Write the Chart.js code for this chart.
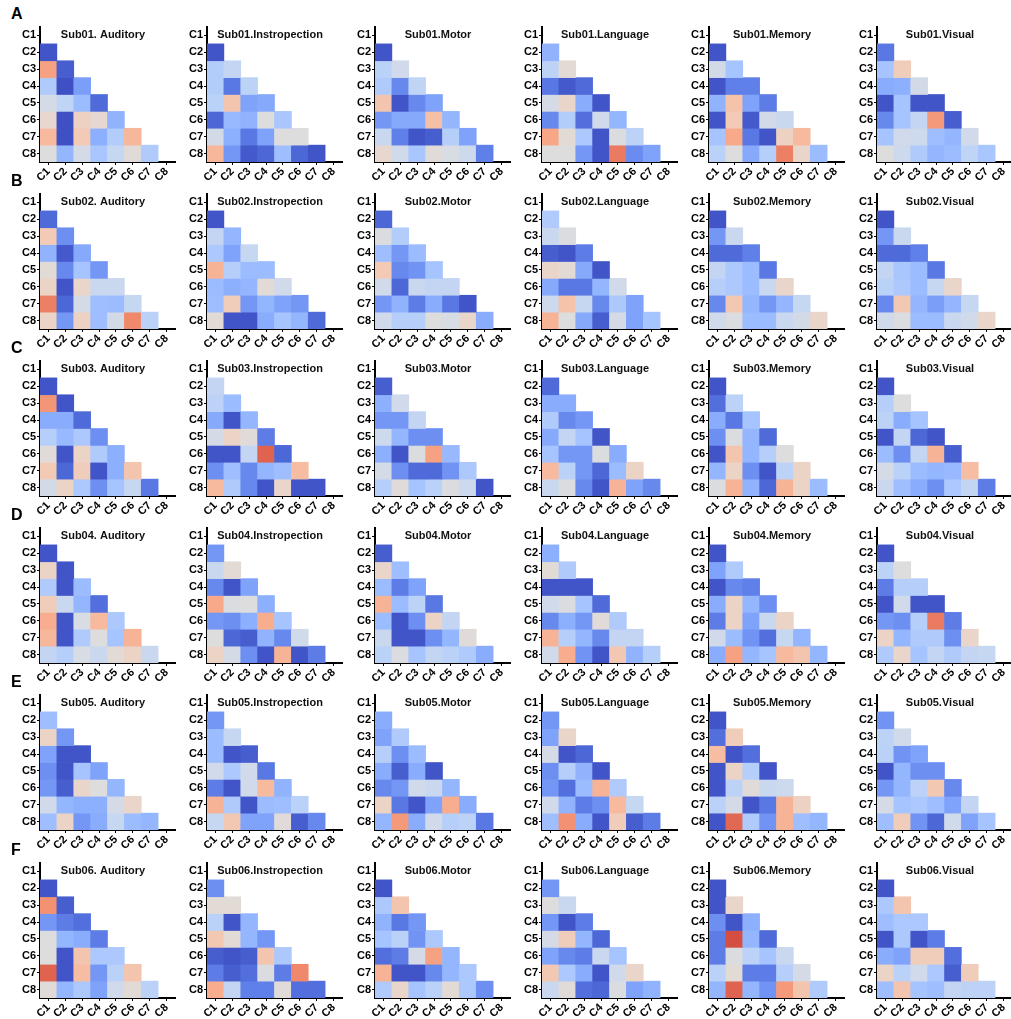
<!DOCTYPE html>
<html>
<head>
<meta charset="utf-8">
<title>Component correlation matrices by subject and task</title>
<script src="https://cdn.jsdelivr.net/npm/chart.js@4.4.1/dist/chart.umd.min.js"></script>
<style>
  html, body { margin: 0; padding: 0; background: #fff; overflow: hidden; width: 1011px; height: 1019px; }
  #fig { position: relative; width: 1011px; height: 1019px; }
  #fig canvas { position: absolute; }
  .tag { position: absolute; font: bold 16px "Liberation Sans", Arial, sans-serif; line-height: 16px; color: #000; }
</style>
</head>
<body>
<div id="fig"></div>
<script>
// ---- labels ----
const components = ['C1', 'C2', 'C3', 'C4', 'C5', 'C6', 'C7', 'C8'];
const subjects = ['Sub01', 'Sub02', 'Sub03', 'Sub04', 'Sub05', 'Sub06'];
const tasks = ['Auditory', 'Instropection', 'Motor', 'Language', 'Memory', 'Visual'];
const rowTags = ['A', 'B', 'C', 'D', 'E', 'F'];

// ---- lower-triangle values (row C2..C8, columns C1..C(row-1)), scale 0 (blue) .. 1 (red) ----
const sub01_auditory = [
  [0.02], [0.73, 0.04], [0.35, 0.01, 0.20], [0.47, 0.40, 0.29, 0.07],
  [0.54, 0.01, 0.57, 0.53, 0.26], [0.66, 0.01, 0.60, 0.25, 0.36, 0.67],
  [0.50, 0.27, 0.47, 0.33, 0.42, 0.51, 0.35]];
const sub01_instropection = [
  [0.02], [0.36, 0.41], [0.36, 0.10, 0.39], [0.38, 0.62, 0.21, 0.23],
  [0.06, 0.28, 0.26, 0.50, 0.33], [0.46, 0.25, 0.10, 0.21, 0.50, 0.50],
  [0.67, 0.18, 0.03, 0.06, 0.30, 0.06, 0.02]];
const sub01_motor = [
  [0.02], [0.38, 0.45], [0.35, 0.14, 0.40], [0.62, 0.02, 0.14, 0.21],
  [0.18, 0.23, 0.23, 0.64, 0.27], [0.43, 0.12, 0.02, 0.04, 0.37, 0.21],
  [0.54, 0.45, 0.33, 0.51, 0.48, 0.44, 0.12]];
const sub01_language = [
  [0.26], [0.39, 0.52], [0.10, 0.03, 0.07], [0.47, 0.55, 0.24, 0.02],
  [0.14, 0.36, 0.08, 0.45, 0.27], [0.72, 0.52, 0.34, 0.02, 0.49, 0.39],
  [0.50, 0.50, 0.18, 0.02, 0.82, 0.15, 0.21]];
const sub01_memory = [
  [0.02], [0.46, 0.32], [0.02, 0.12, 0.12], [0.26, 0.63, 0.21, 0.11],
  [0.02, 0.60, 0.03, 0.46, 0.43], [0.32, 0.71, 0.10, 0.02, 0.57, 0.66],
  [0.38, 0.50, 0.23, 0.37, 0.81, 0.55, 0.29]];
const sub01_visual = [
  [0.10], [0.32, 0.59], [0.24, 0.25, 0.46], [0.02, 0.32, 0.02, 0.02],
  [0.14, 0.32, 0.41, 0.75, 0.04], [0.32, 0.45, 0.44, 0.30, 0.27, 0.45],
  [0.50, 0.44, 0.35, 0.27, 0.29, 0.40, 0.33]];

const sub02_auditory = [
  [0.07], [0.60, 0.16], [0.26, 0.03, 0.23], [0.52, 0.14, 0.32, 0.18],
  [0.56, 0.02, 0.55, 0.43, 0.43], [0.81, 0.06, 0.47, 0.30, 0.29, 0.42],
  [0.56, 0.18, 0.57, 0.30, 0.46, 0.79, 0.38]];
const sub02_instropection = [
  [0.02], [0.41, 0.27], [0.34, 0.21, 0.42], [0.68, 0.37, 0.29, 0.29],
  [0.29, 0.25, 0.27, 0.52, 0.45], [0.30, 0.59, 0.18, 0.27, 0.21, 0.18],
  [0.52, 0.02, 0.02, 0.24, 0.32, 0.27, 0.07]];
const sub02_motor = [
  [0.06], [0.49, 0.36], [0.30, 0.18, 0.29], [0.60, 0.14, 0.17, 0.32],
  [0.45, 0.06, 0.43, 0.41, 0.41], [0.18, 0.26, 0.11, 0.24, 0.10, 0.02],
  [0.45, 0.37, 0.37, 0.50, 0.48, 0.55, 0.24]];
const sub02_language = [
  [0.35], [0.43, 0.49], [0.04, 0.02, 0.11], [0.55, 0.52, 0.23, 0.02],
  [0.23, 0.10, 0.10, 0.27, 0.45], [0.44, 0.63, 0.42, 0.14, 0.34, 0.21],
  [0.68, 0.50, 0.23, 0.04, 0.47, 0.21, 0.32]];
const sub02_memory = [
  [0.02], [0.18, 0.43], [0.07, 0.07, 0.12], [0.41, 0.34, 0.29, 0.10],
  [0.37, 0.34, 0.29, 0.43, 0.55], [0.14, 0.61, 0.27, 0.18, 0.27, 0.42],
  [0.45, 0.49, 0.29, 0.29, 0.43, 0.46, 0.55]];
const sub02_visual = [
  [0.02], [0.18, 0.43], [0.07, 0.07, 0.12], [0.41, 0.33, 0.29, 0.10],
  [0.38, 0.34, 0.29, 0.42, 0.55], [0.14, 0.61, 0.27, 0.20, 0.27, 0.42],
  [0.45, 0.49, 0.29, 0.29, 0.43, 0.45, 0.55]];

const sub03_auditory = [
  [0.02], [0.76, 0.02], [0.24, 0.24, 0.07], [0.37, 0.28, 0.34, 0.16],
  [0.51, 0.02, 0.56, 0.35, 0.25], [0.60, 0.06, 0.59, 0.02, 0.25, 0.62],
  [0.46, 0.56, 0.34, 0.16, 0.32, 0.42, 0.10]];
const sub03_instropection = [
  [0.41], [0.39, 0.29], [0.23, 0.02, 0.27], [0.47, 0.56, 0.51, 0.11],
  [0.02, 0.02, 0.41, 0.87, 0.06], [0.16, 0.30, 0.14, 0.27, 0.30, 0.65],
  [0.66, 0.35, 0.14, 0.02, 0.55, 0.02, 0.02]];
const sub03_motor = [
  [0.04], [0.25, 0.45], [0.18, 0.18, 0.41], [0.44, 0.27, 0.16, 0.16],
  [0.25, 0.02, 0.49, 0.73, 0.28], [0.47, 0.16, 0.07, 0.07, 0.17, 0.34],
  [0.37, 0.51, 0.32, 0.38, 0.49, 0.44, 0.02]];
const sub03_language = [
  [0.07], [0.24, 0.24], [0.35, 0.14, 0.18], [0.23, 0.41, 0.32, 0.02],
  [0.32, 0.18, 0.18, 0.49, 0.24], [0.66, 0.38, 0.18, 0.06, 0.29, 0.56],
  [0.43, 0.49, 0.14, 0.02, 0.68, 0.21, 0.14]];
const sub03_memory = [
  [0.02], [0.08, 0.39], [0.24, 0.10, 0.32], [0.16, 0.49, 0.27, 0.07],
  [0.02, 0.62, 0.27, 0.37, 0.50], [0.27, 0.56, 0.16, 0.02, 0.39, 0.56],
  [0.49, 0.68, 0.26, 0.06, 0.68, 0.56, 0.29]];
const sub03_visual = [
  [0.02], [0.37, 0.50], [0.39, 0.24, 0.32], [0.02, 0.41, 0.06, 0.02],
  [0.29, 0.16, 0.41, 0.68, 0.04], [0.47, 0.38, 0.29, 0.27, 0.28, 0.65],
  [0.43, 0.30, 0.24, 0.16, 0.34, 0.41, 0.11]];

const sub04_auditory = [
  [0.02], [0.56, 0.02], [0.35, 0.02, 0.29], [0.59, 0.43, 0.27, 0.08],
  [0.70, 0.02, 0.48, 0.66, 0.34], [0.67, 0.02, 0.35, 0.50, 0.32, 0.68],
  [0.41, 0.37, 0.48, 0.43, 0.52, 0.56, 0.43]];
const sub04_instropection = [
  [0.18], [0.43, 0.52], [0.14, 0.02, 0.21], [0.71, 0.49, 0.50, 0.25],
  [0.18, 0.16, 0.25, 0.70, 0.32], [0.50, 0.06, 0.04, 0.26, 0.14, 0.45],
  [0.56, 0.47, 0.16, 0.02, 0.68, 0.02, 0.11]];
const sub04_motor = [
  [0.04], [0.55, 0.30], [0.29, 0.11, 0.21], [0.68, 0.29, 0.39, 0.10],
  [0.29, 0.02, 0.16, 0.56, 0.41], [0.43, 0.02, 0.02, 0.16, 0.27, 0.51],
  [0.38, 0.49, 0.32, 0.41, 0.38, 0.35, 0.24]];
const sub04_language = [
  [0.25], [0.52, 0.35], [0.02, 0.02, 0.02], [0.45, 0.49, 0.32, 0.07],
  [0.14, 0.25, 0.18, 0.51, 0.35], [0.68, 0.37, 0.27, 0.14, 0.41, 0.41],
  [0.45, 0.70, 0.17, 0.02, 0.61, 0.26, 0.37]];
const sub04_memory = [
  [0.02], [0.21, 0.35], [0.02, 0.14, 0.12], [0.24, 0.56, 0.27, 0.16],
  [0.11, 0.56, 0.21, 0.43, 0.56], [0.45, 0.29, 0.17, 0.08, 0.42, 0.27],
  [0.24, 0.73, 0.27, 0.32, 0.66, 0.62, 0.27]];
const sub04_visual = [
  [0.02], [0.39, 0.50], [0.11, 0.37, 0.37], [0.02, 0.45, 0.02, 0.02],
  [0.18, 0.16, 0.37, 0.82, 0.11], [0.56, 0.27, 0.35, 0.35, 0.16, 0.55],
  [0.35, 0.55, 0.32, 0.41, 0.35, 0.41, 0.42]];

const sub05_auditory = [
  [0.30], [0.56, 0.18], [0.21, 0.02, 0.02], [0.16, 0.02, 0.32, 0.21],
  [0.18, 0.04, 0.55, 0.50, 0.27], [0.45, 0.27, 0.25, 0.25, 0.47, 0.55],
  [0.30, 0.56, 0.18, 0.24, 0.42, 0.29, 0.27]];
const sub05_instropection = [
  [0.18], [0.29, 0.42], [0.29, 0.02, 0.04], [0.45, 0.34, 0.45, 0.10],
  [0.11, 0.02, 0.45, 0.66, 0.26], [0.68, 0.35, 0.02, 0.29, 0.30, 0.38],
  [0.42, 0.61, 0.21, 0.21, 0.51, 0.04, 0.14]];
const sub05_motor = [
  [0.24], [0.21, 0.35], [0.37, 0.16, 0.29], [0.24, 0.04, 0.24, 0.02],
  [0.14, 0.18, 0.45, 0.43, 0.27], [0.56, 0.10, 0.02, 0.21, 0.70, 0.24],
  [0.27, 0.75, 0.24, 0.45, 0.37, 0.39, 0.10]];
const sub05_language = [
  [0.18], [0.21, 0.55], [0.47, 0.02, 0.06], [0.16, 0.37, 0.26, 0.02],
  [0.18, 0.08, 0.29, 0.68, 0.35], [0.45, 0.26, 0.11, 0.16, 0.66, 0.42],
  [0.30, 0.77, 0.24, 0.02, 0.59, 0.04, 0.11]];
const sub05_memory = [
  [0.02], [0.08, 0.59], [0.65, 0.02, 0.08], [0.02, 0.56, 0.37, 0.02],
  [0.02, 0.39, 0.51, 0.43, 0.44], [0.38, 0.47, 0.02, 0.10, 0.68, 0.57],
  [0.02, 0.86, 0.35, 0.17, 0.68, 0.30, 0.27]];
const sub05_visual = [
  [0.17], [0.39, 0.45], [0.38, 0.17, 0.21], [0.02, 0.27, 0.16, 0.16],
  [0.18, 0.27, 0.39, 0.61, 0.14], [0.47, 0.32, 0.34, 0.30, 0.21, 0.41],
  [0.30, 0.59, 0.17, 0.06, 0.45, 0.21, 0.32]];

const sub06_auditory = [
  [0.02], [0.77, 0.04], [0.18, 0.11, 0.08], [0.50, 0.27, 0.24, 0.11],
  [0.50, 0.02, 0.62, 0.34, 0.34], [0.87, 0.02, 0.65, 0.18, 0.38, 0.62],
  [0.51, 0.27, 0.34, 0.21, 0.45, 0.52, 0.38]];
const sub06_instropection = [
  [0.16], [0.52, 0.52], [0.38, 0.02, 0.27], [0.61, 0.52, 0.27, 0.18],
  [0.04, 0.02, 0.04, 0.62, 0.34], [0.11, 0.04, 0.08, 0.49, 0.11, 0.79],
  [0.70, 0.41, 0.12, 0.12, 0.51, 0.08, 0.08]];
const sub06_motor = [
  [0.02], [0.34, 0.62], [0.26, 0.10, 0.18], [0.32, 0.38, 0.17, 0.34],
  [0.08, 0.11, 0.47, 0.73, 0.27], [0.68, 0.02, 0.02, 0.14, 0.27, 0.34],
  [0.35, 0.55, 0.32, 0.38, 0.52, 0.34, 0.16]];
const sub06_language = [
  [0.18], [0.50, 0.43], [0.18, 0.02, 0.11], [0.47, 0.59, 0.27, 0.06],
  [0.21, 0.14, 0.11, 0.43, 0.32], [0.61, 0.34, 0.24, 0.02, 0.45, 0.55],
  [0.43, 0.51, 0.08, 0.06, 0.49, 0.21, 0.26]];
const sub06_memory = [
  [0.02], [0.02, 0.55], [0.16, 0.02, 0.25], [0.11, 0.91, 0.27, 0.07],
  [0.11, 0.49, 0.39, 0.32, 0.43], [0.38, 0.52, 0.11, 0.11, 0.37, 0.47],
  [0.27, 0.87, 0.27, 0.17, 0.75, 0.62, 0.35]];
const sub06_visual = [
  [0.02], [0.34, 0.62], [0.30, 0.34, 0.34], [0.02, 0.34, 0.02, 0.11],
  [0.24, 0.21, 0.59, 0.59, 0.08], [0.56, 0.38, 0.45, 0.34, 0.04, 0.59],
  [0.30, 0.62, 0.32, 0.30, 0.41, 0.39, 0.39]];

const panelGrid = [
  [sub01_auditory, sub01_instropection, sub01_motor, sub01_language, sub01_memory, sub01_visual],
  [sub02_auditory, sub02_instropection, sub02_motor, sub02_language, sub02_memory, sub02_visual],
  [sub03_auditory, sub03_instropection, sub03_motor, sub03_language, sub03_memory, sub03_visual],
  [sub04_auditory, sub04_instropection, sub04_motor, sub04_language, sub04_memory, sub04_visual],
  [sub05_auditory, sub05_instropection, sub05_motor, sub05_language, sub05_memory, sub05_visual],
  [sub06_auditory, sub06_instropection, sub06_motor, sub06_language, sub06_memory, sub06_visual]
];

// ---- diverging blue-grey-red colour map (coolwarm) ----
const coolwarmStops = [
  [59,76,192],[68,90,204],[77,104,215],[87,117,225],[98,130,234],[108,142,241],[119,154,247],
  [130,165,251],[141,176,254],[152,185,255],[163,194,255],[174,201,253],[184,208,249],
  [194,213,244],[204,217,238],[213,219,230],[221,221,221],[229,216,209],[236,211,197],
  [241,204,184],[245,196,172],[247,187,159],[247,177,147],[247,166,134],[244,154,123],
  [241,141,111],[236,127,99],[229,112,88],[222,96,77],[213,80,66],[203,62,56],[192,40,47],[180,4,38]
];
function coolwarm(v) {
  const t = Math.max(0, Math.min(1, v)) * (coolwarmStops.length - 1);
  const i = Math.min(Math.floor(t), coolwarmStops.length - 2);
  const f = t - i;
  const a = coolwarmStops[i], b = coolwarmStops[i + 1];
  const c = a.map((x, k) => Math.round(x + (b[k] - x) * f));
  return `rgb(${c[0]},${c[1]},${c[2]})`;
}

// ---- panel title drawn inside the empty top row of each triangle ----
const panelTitle = {
  id: 'panelTitle',
  afterDatasetsDraw(chart, args, opts) {
    const { ctx, chartArea } = chart;
    ctx.save();
    ctx.font = 'bold 11px "Liberation Sans", Arial, sans-serif';
    ctx.fillStyle = '#111';
    ctx.textAlign = 'center';
    ctx.textBaseline = 'middle';
    ctx.fillText(opts.text, chartArea.left + 63, chartArea.top + 8);
    ctx.restore();
  }
};

const FONT = '"Liberation Sans", Arial, sans-serif';
const tickFont = { family: FONT, size: 11, weight: 'bold' };
const axisGrid = { display: true, drawOnChartArea: false, offset: false, tickLength: 3, tickColor: '#000', tickWidth: 1 };
const axisBorder = { display: true, color: '#000', width: 2 };

const CANVAS_W = 178, CANVAS_H = 172;
const COL_STEP = 167.3, ROW_STEP = 167.2;
const fig = document.getElementById('fig');

// keep the plot square at a fixed size: no extra room reserved for end labels
function fixedAxis(size, horizontal) {
  return (s) => {
    if (horizontal) s.height = size; else s.width = size;
    s.paddingTop = 0; s.paddingBottom = 0; s.paddingLeft = 0; s.paddingRight = 0;
  };
}

function makePanel(left, top, title, matrix) {
  const canvas = document.createElement('canvas');
  canvas.width = CANVAS_W; canvas.height = CANVAS_H;
  canvas.style.left = left + 'px'; canvas.style.top = top + 'px';
  canvas.style.width = CANVAS_W + 'px'; canvas.style.height = CANVAS_H + 'px';
  fig.appendChild(canvas);

  // one floating-bar dataset per matrix row; each cell spans [row, row + 1]
  const datasets = matrix.map((vals, i) => {
    const r = i + 1;
    return {
      label: components[r],
      data: components.map((_, c) => (c < r ? [r, r + 1] : null)),
      backgroundColor: components.map((_, c) => (c < r ? coolwarm(vals[c]) : 'rgba(0,0,0,0)')),
      borderWidth: 0,
      grouped: false,
      barPercentage: 1,
      categoryPercentage: 1
    };
  });

  new Chart(canvas, {
    type: 'bar',
    data: { labels: components, datasets },
    options: {
      responsive: false,
      animation: false,
      devicePixelRatio: 1,
      layout: { padding: { top: 2, left: 0, right: 3, bottom: 3 } },
      plugins: { legend: { display: false }, tooltip: { enabled: false }, panelTitle: { text: title } },
      scales: {
        x: {
          type: 'category',
          offset: true,
          grid: axisGrid,
          border: axisBorder,
          ticks: { color: '#000', font: tickFont, minRotation: 45, maxRotation: 45, autoSkip: false, padding: 0 },
          afterFit: fixedAxis(32, true)
        },
        y: {
          type: 'linear',
          min: 0, max: 8, reverse: true,
          grid: axisGrid,
          border: axisBorder,
          afterBuildTicks: (axis) => { axis.ticks = components.map((_, i) => ({ value: i + 0.5 })); },
          ticks: { color: '#000', font: tickFont, padding: 1, callback: (v, i) => components[i] },
          afterFit: fixedAxis(40, false)
        }
      }
    },
    plugins: [panelTitle]
  });
}

subjects.forEach((sub, r) => {
  const plotTop = 26.5 + ROW_STEP * r;
  const tag = document.createElement('div');
  tag.className = 'tag';
  tag.textContent = rowTags[r];
  tag.style.left = '11px';
  tag.style.top = Math.round(plotTop - 21) + 'px';
  fig.appendChild(tag);

  tasks.forEach((task, c) => {
    const title = sub + (task === 'Auditory' ? '. ' : '.') + task;
    makePanel(Math.round(COL_STEP * c), Math.round(plotTop - 2), title, panelGrid[r][c]);
  });
});
</script>
</body>
</html>
